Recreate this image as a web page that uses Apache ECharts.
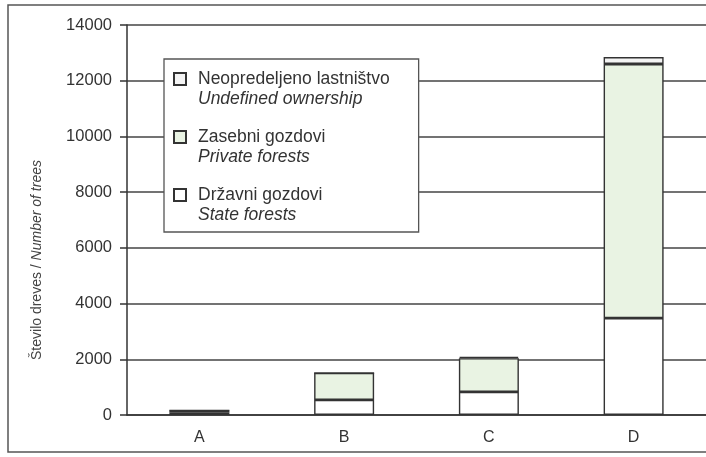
<!DOCTYPE html>
<html><head><meta charset="utf-8">
<script src="https://cdn.jsdelivr.net/npm/echarts@6/dist/echarts.min.js"></script>
<style>html,body{margin:0;padding:0;background:#fff}#c{width:706px;height:457px}</style>
</head><body><div id="c"></div>
<script>
const categories = ['A', 'B', 'C', 'D'];
const stateForests = [100, 540, 830, 3480];
const privateForests = [60, 970, 1210, 9120];
const undefinedOwnership = [0, 0, 50, 250];
const yTicks = [0, 2000, 4000, 6000, 8000, 10000, 12000, 14000];

const chart = echarts.init(document.getElementById('c'));
const font = 'Liberation Sans, Arial, sans-serif';
const barStyle = (c) => ({ color: c, borderColor: '#333', borderWidth: 1.4 });
const legendFmt = {
  'Neopredeljeno lastništvo': '{a|Neopredeljeno lastništvo}\n{b|Undefined ownership}',
  'Zasebni gozdovi': '{a|Zasebni gozdovi}\n{b|Private forests}',
  'Državni gozdovi': '{a|Državni gozdovi}\n{b|State forests}'
};
chart.setOption({
  animation: false,
  backgroundColor: '#fff',
  grid: { left: 127, top: 25, width: 586, height: 390, containLabel: false },
  xAxis: {
    type: 'category', data: categories,
    axisLine: { lineStyle: { color: '#333', width: 1.5 } },
    axisTick: { show: false },
    axisLabel: { color: '#333', fontSize: 16, fontFamily: font, margin: 15 }
  },
  yAxis: {
    type: 'value', min: yTicks[0], max: yTicks[yTicks.length - 1], interval: 2000,
    axisLine: { show: true, lineStyle: { color: '#333', width: 1.5 } },
    axisTick: { show: true, inside: false, length: 7, lineStyle: { color: '#333', width: 1.5 } },
    axisLabel: { color: '#333', fontSize: 16.5, fontFamily: font, margin: 15, formatter: (v) => String(v) },
    splitLine: { show: true, lineStyle: { color: '#444', width: 1.5 } }
  },
  legend: {
    orient: 'vertical', left: 164, top: 59,
    data: ['Neopredeljeno lastništvo', 'Zasebni gozdovi', 'Državni gozdovi'],
    backgroundColor: '#fff', borderColor: '#555', borderWidth: 1.3,
    padding: [11, 29, 8, 9],
    itemGap: 20, itemWidth: 12, itemHeight: 32,
    icon: 'path://M0,0L12,0L12,12L0,12Z M0,32',
    formatter: (n) => legendFmt[n],
    textStyle: {
      color: '#333', fontFamily: font, padding: [0, 0, 0, 7],
      rich: {
        a: { fontSize: 17.5, fontFamily: font, color: '#333', lineHeight: 20 },
        b: { fontSize: 17.5, fontFamily: font, fontStyle: 'italic', color: '#333', lineHeight: 20 }
      }
    }
  },
  series: [
    { name: 'Državni gozdovi', type: 'bar', stack: 't', barWidth: 60, data: stateForests, itemStyle: barStyle('#ffffff') },
    { name: 'Zasebni gozdovi', type: 'bar', stack: 't', barWidth: 60, data: privateForests, itemStyle: barStyle('#e9f3e3') },
    { name: 'Neopredeljeno lastništvo', type: 'bar', stack: 't', barWidth: 60, data: undefinedOwnership, itemStyle: barStyle('#f4f4f4') }
  ],
  graphic: [
    { type: 'rect', shape: { x: 8, y: 5, width: 720, height: 447 }, style: { fill: null, stroke: '#555', lineWidth: 1.5 }, silent: true, z: 100 },
    { type: 'text', x: 37, y: 260, rotation: Math.PI / 2,
      style: { text: '{a|Število dreves / }{b|Number of trees}', align: 'center', verticalAlign: 'middle',
        rich: { a: { fontSize: 14, fontFamily: font, fill: '#444' }, b: { fontSize: 14, fontFamily: font, fontStyle: 'italic', fill: '#444' } } } }
  ]
});
</script></body></html>
